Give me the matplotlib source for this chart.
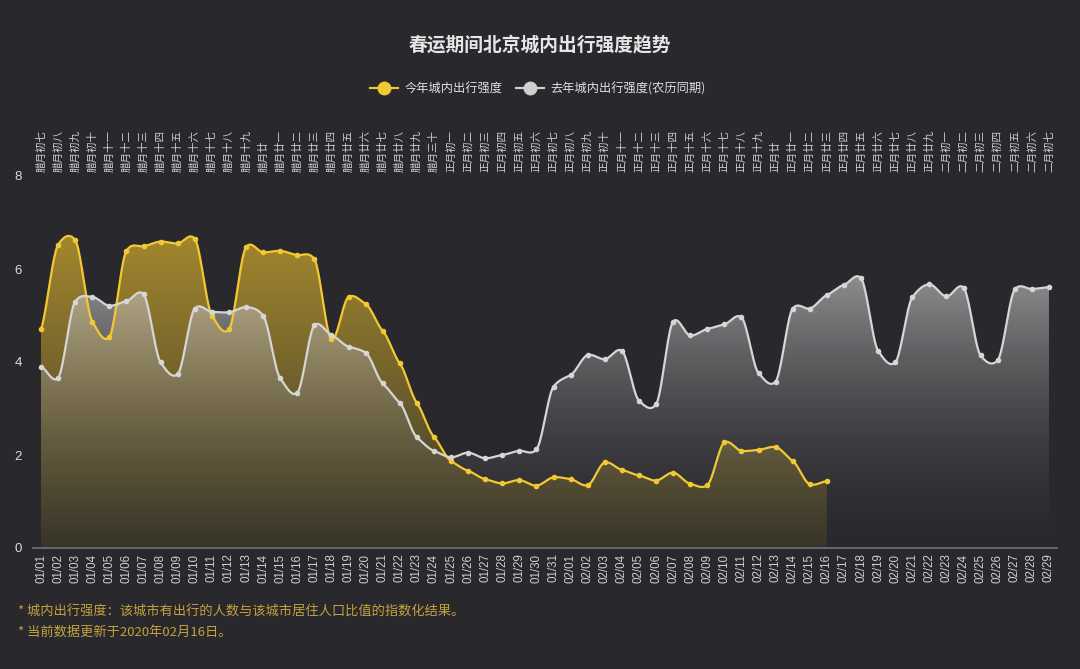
import numpy as np
import matplotlib
matplotlib.use('Agg')
import matplotlib.pyplot as plt
from matplotlib.patches import Polygon
from matplotlib.lines import Line2D
import matplotlib.transforms as mtransforms

plt.rcParams['font.family'] = ['Liberation Sans', 'Noto Sans CJK SC', 'DejaVu Sans']

dates = ['01/01', '01/02', '01/03', '01/04', '01/05', '01/06', '01/07', '01/08', '01/09', '01/10',
         '01/11', '01/12', '01/13', '01/14', '01/15', '01/16', '01/17', '01/18', '01/19', '01/20',
         '01/21', '01/22', '01/23', '01/24', '01/25', '01/26', '01/27', '01/28', '01/29', '01/30',
         '01/31', '02/01', '02/02', '02/03', '02/04', '02/05', '02/06', '02/07', '02/08', '02/09',
         '02/10', '02/11', '02/12', '02/13', '02/14', '02/15', '02/16', '02/17', '02/18', '02/19',
         '02/20', '02/21', '02/22', '02/23', '02/24', '02/25', '02/26', '02/27', '02/28', '02/29']

lunar = ['腊月初七', '腊月初八', '腊月初九', '腊月初十', '腊月十一', '腊月十二', '腊月十三', '腊月十四',
         '腊月十五', '腊月十六', '腊月十七', '腊月十八', '腊月十九', '腊月廿', '腊月廿一', '腊月廿二',
         '腊月廿三', '腊月廿四', '腊月廿五', '腊月廿六', '腊月廿七', '腊月廿八', '腊月廿九', '腊月三十',
         '正月初一', '正月初二', '正月初三', '正月初四', '正月初五', '正月初六', '正月初七', '正月初八',
         '正月初九', '正月初十', '正月十一', '正月十二', '正月十三', '正月十四', '正月十五', '正月十六',
         '正月十七', '正月十八', '正月十九', '正月廿', '正月廿一', '正月廿二', '正月廿三', '正月廿四',
         '正月廿五', '正月廿六', '正月廿七', '正月廿八', '正月廿九', '二月初一', '二月初二', '二月初三',
         '二月初四', '二月初五', '二月初六', '二月初七']

this_year = [4.70, 6.52, 6.62, 4.87, 4.54, 6.39, 6.49, 6.59, 6.55, 6.65,
             5.00, 4.70, 6.47, 6.36, 6.39, 6.30, 6.21, 4.49, 5.40, 5.25,
             4.67, 3.97, 3.12, 2.39, 1.87, 1.66, 1.48, 1.39, 1.46, 1.34,
             1.52, 1.48, 1.35, 1.84, 1.68, 1.56, 1.45, 1.62, 1.38, 1.35,
             2.27, 2.09, 2.11, 2.17, 1.87, 1.37, 1.44]

last_year = [3.90, 3.66, 5.30, 5.40, 5.21, 5.31, 5.46, 3.99, 3.74, 5.15,
             5.08, 5.07, 5.18, 5.00, 3.65, 3.34, 4.79, 4.58, 4.33, 4.20,
             3.54, 3.12, 2.38, 2.09, 1.95, 2.05, 1.93, 2.00, 2.09, 2.12,
             3.47, 3.72, 4.15, 4.06, 4.24, 3.17, 3.09, 4.87, 4.57, 4.71,
             4.81, 4.96, 3.76, 3.58, 5.15, 5.15, 5.44, 5.66, 5.80, 4.24,
             3.99, 5.39, 5.67, 5.41, 5.60, 4.14, 4.04, 5.56, 5.57, 5.61]

BG = '#29292d'
YELLOW = '#f2c933'
GRAY = '#d6d6d6'


def smooth(x, y, n=20, k=0.6):
    x = np.asarray(x, float)
    y = np.asarray(y, float)
    m = np.zeros_like(y)
    m[1:-1] = (y[2:] - y[:-2]) / 2.0
    m[0] = y[1] - y[0]
    m[-1] = y[-1] - y[-2]
    m *= k
    xs, ys = [], []
    for i in range(len(x) - 1):
        t = np.linspace(0, 1, n, endpoint=False)
        h00 = 2 * t**3 - 3 * t**2 + 1
        h10 = t**3 - 2 * t**2 + t
        h01 = -2 * t**3 + 3 * t**2
        h11 = t**3 - t**2
        xs.append(x[i] + t * (x[i + 1] - x[i]))
        ys.append(h00 * y[i] + h10 * m[i] + h01 * y[i + 1] + h11 * m[i + 1])
    xs.append([x[-1]])
    ys.append([y[-1]])
    return np.concatenate(xs), np.concatenate(ys)


def grad_fill(ax, xs, ys, top, bot, zorder):
    verts = [(xs[0], 0)] + list(zip(xs, ys)) + [(xs[-1], 0)]
    poly = Polygon(verts, closed=True, facecolor='none', edgecolor='none')
    ax.add_patch(poly)
    ymax = max(ys)
    t = np.linspace(1, 0, 256)[:, None, None]
    top = np.array(top)[None, None, :]
    bot = np.array(bot)[None, None, :]
    img = top * t + bot * (1 - t)
    im = ax.imshow(img, extent=[xs[0], xs[-1], 0, ymax], aspect='auto',
                   origin='upper', zorder=zorder, interpolation='bilinear')
    im.set_clip_path(poly)


fig = plt.figure(figsize=(10.8, 6.69), dpi=100, facecolor=BG)
ax = fig.add_axes([33 / 1080, 1 - 548 / 669, (1057 - 33) / 1080, (548 - 176) / 669])
ax.set_facecolor(BG)

x_all = np.arange(len(dates))
x_this = np.arange(len(this_year))

sx1, sy1 = smooth(x_this, this_year)
sx2, sy2 = smooth(x_all, last_year)

grad_fill(ax, sx1, sy1, (0.64, 0.53, 0.18, 1.0), (0.22, 0.21, 0.16, 1.0), 1)
grad_fill(ax, sx2, sy2, (0.80, 0.80, 0.80, 0.62), (0.30, 0.30, 0.32, 0.0), 2)

ax.plot(sx1, sy1, color=YELLOW, lw=1.6, zorder=4, solid_capstyle='round')
ax.plot(x_this, this_year, 'o', color=YELLOW, ms=3, zorder=5)
ax.plot(sx2, sy2, color=GRAY, lw=1.6, zorder=4, solid_capstyle='round')
ax.plot(x_all, last_year, 'o', color=GRAY, ms=3, zorder=5)

ax.set_xlim(-0.47, len(dates) - 1 + 0.47)
ax.set_ylim(0, 8)

for s in ['top', 'right', 'left']:
    ax.spines[s].set_visible(False)
ax.spines['bottom'].set_color('#6e7380')
ax.spines['bottom'].set_linewidth(1.2)

ax.set_yticks([0, 2, 4, 6, 8])
ax.set_yticklabels(['0', '2', '4', '6', '8'])
ax.tick_params(axis='y', length=0, pad=8, labelcolor='#dddddd', labelsize=9.5)
ax.set_xticks(x_all)
ax.set_xticklabels(dates, rotation=90)
ax.tick_params(axis='x', length=0, pad=4, labelcolor='#d0d0d0', labelsize=8.3)

trans = mtransforms.blended_transform_factory(ax.transData, ax.transAxes)
for i, lab in enumerate(lunar):
    ax.text(i, 1.0 + 4 / 372, lab, transform=trans, rotation=90, ha='center', va='bottom',
            fontsize=7.6, color='#cfcfcf', family=['Noto Sans CJK SC', 'DejaVu Sans'])

fig.text(0.5, 1 - 45 / 669, '春运期间北京城内出行强度趋势', ha='center', va='center',
         fontsize=13.5, fontweight='bold', color='#e6e6e6',
         family=['Noto Sans CJK SC', 'DejaVu Sans'])

handles = [Line2D([0], [0], color=YELLOW, lw=1.6, marker='o', ms=9),
           Line2D([0], [0], color='#cfcfcf', lw=1.6, marker='o', ms=9)]
leg = fig.legend(handles, ['今年城内出行强度', '去年城内出行强度(农历同期)'],
                 loc='center', bbox_to_anchor=(0.498, 1 - 89 / 669), ncol=2, frameon=False,
                 handlelength=2.3, handletextpad=0.5, columnspacing=1.1,
                 prop={'family': ['Noto Sans CJK SC', 'DejaVu Sans'], 'size': 8.8})
for t in leg.get_texts():
    t.set_color('#e0e0e0')

fig.text(18 / 1080, 1 - 612 / 669, '* 城内出行强度：该城市有出行的人数与该城市居住人口比值的指数化结果。',
         ha='left', va='center', fontsize=9.5, color='#c5a23c',
         family=['Noto Sans CJK SC', 'DejaVu Sans'])
fig.text(18 / 1080, 1 - 632 / 669, '* 当前数据更新于2020年02月16日。',
         ha='left', va='center', fontsize=9.5, color='#c5a23c',
         family=['Noto Sans CJK SC', 'DejaVu Sans'])

fig.savefig('out.png', dpi=100, facecolor=BG)
